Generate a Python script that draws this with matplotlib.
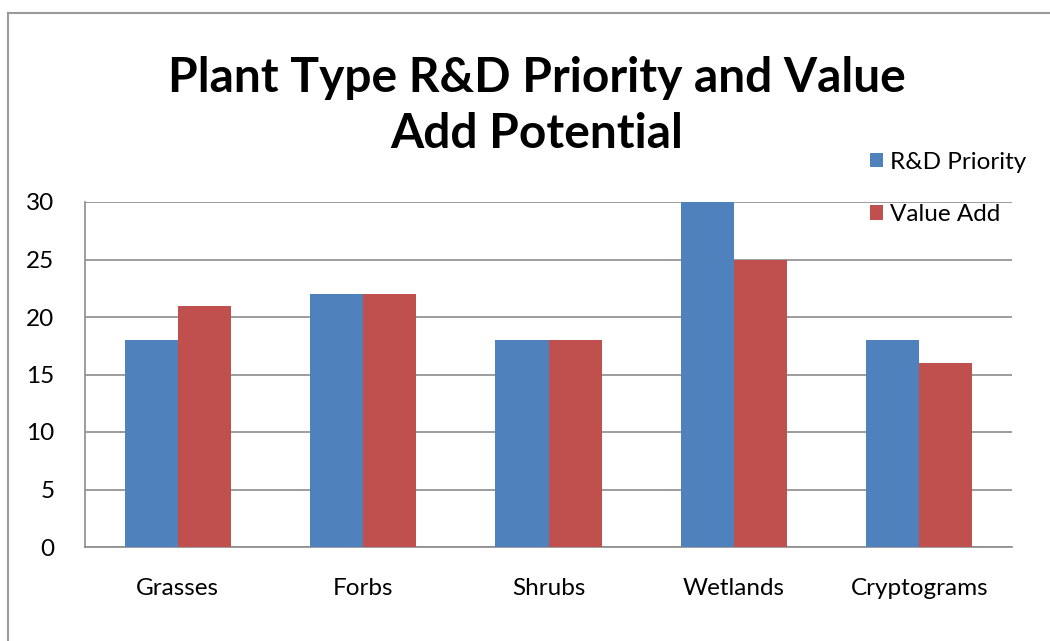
import matplotlib
matplotlib.use("Agg")
import matplotlib.pyplot as plt
import numpy as np
from matplotlib.patches import Patch
from matplotlib.lines import Line2D

categories = ["Grasses", "Forbs", "Shrubs", "Wetlands", "Cryptograms"]
rd_priority = [18, 22, 18, 30, 18]
value_add = [21, 22, 18, 25, 16]
series_names = ["R&D Priority", "Value Add"]
yticks = [0, 5, 10, 15, 20, 25, 30]
title = "Plant Type R&D Priority and Value\nAdd Potential"

plt.rcParams['font.family'] = ['Lato', 'DejaVu Sans']

W, H = 1050, 641
fig = plt.figure(figsize=(W / 100, H / 100), dpi=100)
fig.patch.set_facecolor("white")

# outer chart border (top and left visible)
fig.add_artist(Line2D([8 / W, 8 / W], [0, 1 - 13 / H], transform=fig.transFigure,
                      color="#9a9a9a", lw=1.5))
fig.add_artist(Line2D([8 / W, 1], [1 - 13 / H, 1 - 13 / H], transform=fig.transFigure,
                      color="#9a9a9a", lw=1.5))

left, right = 85 / W, 1012 / W
bottom, top = 1 - 547 / H, 1 - 202 / H
ax = fig.add_axes([left, bottom, right - left, top - bottom])

x = np.arange(len(categories))
bw = 0.286
colors = ["#4F81BD", "#C0504D"]
ax.bar(x - bw / 2, rd_priority, bw, color=colors[0], zorder=3)
ax.bar(x + bw / 2, value_add, bw, color=colors[1], zorder=3)

ax.set_xlim(-0.5, len(categories) - 0.5)
ax.set_ylim(0, 30)
ax.set_yticks(yticks)
ax.set_yticklabels([str(v) for v in yticks], fontsize=17.5)
ax.set_xticks(x)
ax.set_xticklabels(categories, fontsize=17.5)
ax.tick_params(axis="both", length=0)
ax.tick_params(axis="y", pad=22)
ax.tick_params(axis="x", pad=22)
ax.yaxis.grid(True, color="#8c8c8c", lw=1.2, zorder=0)
ax.set_axisbelow(True)
for s in ["top", "right"]:
    ax.spines[s].set_visible(False)
ax.spines["left"].set_color("#8c8c8c")
ax.spines["bottom"].set_color("#8c8c8c")
ax.spines["left"].set_linewidth(1.2)
ax.spines["bottom"].set_linewidth(1.2)

fig.text(537 / W, 1 - 106 / H, title, ha="center", va="center", fontsize=34.5,
         fontweight="bold", linespacing=1.36)

handles = [Patch(facecolor=colors[0]), Patch(facecolor=colors[1])]
leg = fig.legend(handles, series_names, loc="upper left",
                 bbox_to_anchor=(860 / W, 1 - 142 / H), frameon=False,
                 fontsize=17.5, handlelength=0.55, handleheight=0.55,
                 handletextpad=0.3, labelspacing=1.3, borderaxespad=0)

fig.savefig("out.png", dpi=100, facecolor="white")
